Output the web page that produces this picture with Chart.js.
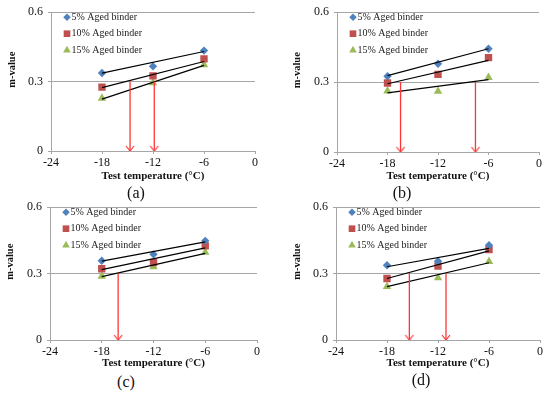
<!DOCTYPE html>
<html>
<head>
<meta charset="utf-8">
<script src="https://cdn.jsdelivr.net/npm/chart.js@4/dist/chart.umd.min.js"></script>
<style>
  body { margin: 0; background: #fff; width: 550px; height: 395px; position: relative; overflow: hidden; }
  canvas { position: absolute; }
  .tag { position: absolute; font: 16px "Liberation Serif", serif; color: #111; transform: translate(-50%, -50%); }
</style>
</head>
<body>
<canvas id="pa" width="275" height="185" style="left:0;top:0"></canvas>
<canvas id="pb" width="275" height="185" style="left:275px;top:0"></canvas>
<canvas id="pc" width="275" height="178" style="left:0;top:195px"></canvas>
<canvas id="pd" width="275" height="178" style="left:275px;top:195px"></canvas>
<div class="tag" style="left:136px;top:193px">(a)</div>
<div class="tag" style="left:402px;top:193px">(b)</div>
<div class="tag" style="left:126px;top:382px">(c)</div>
<div class="tag" style="left:421px;top:380px">(d)</div>
<script>
// values
const xTicks = [-24, -18, -12, -6, 0];
const yTicks = [0, 0.3, 0.6];
const temps = [-18, -12, -6];
const fitTemps = [-18, -6];
const seriesNames = ['5% Aged binder', '10% Aged binder', '15% Aged binder'];

// (a)
const a5 = [0.337, 0.366, 0.434];
const a10 = [0.276, 0.325, 0.398];
const a15 = [0.228, 0.295, 0.373];
const aFit5 = [0.337, 0.430];
const aFit10 = [0.274, 0.387];
const aFit15 = [0.224, 0.370];
const aArrows = [-14.7, -11.85];

// (b)
const b5 = [0.325, 0.379, 0.443];
const b10 = [0.296, 0.333, 0.405];
const b15 = [0.262, 0.261, 0.320];
const bFit5 = [0.328, 0.443];
const bFit10 = [0.293, 0.393];
const bFit15 = [0.254, 0.311];
const bArrows = [-16.45, -7.55];

// (c)
const c5 = [0.358, 0.387, 0.448];
const c10 = [0.322, 0.350, 0.425];
const c15 = [0.288, 0.331, 0.396];
const cFit5 = [0.356, 0.443];
const cFit10 = [0.318, 0.416];
const cFit15 = [0.286, 0.391];
const cArrows = [-16.1];

// (d)
const d5 = [0.338, 0.356, 0.428];
const d10 = [0.278, 0.334, 0.409];
const d15 = [0.241, 0.281, 0.355];
const dFit5 = [0.331, 0.414];
const dFit10 = [0.278, 0.403];
const dFit15 = [0.241, 0.349];
const dArrows = [-15.37, -11.06];

const FONT = '"Liberation Serif", "Times New Roman", serif';
const COLORS = ['#4f81bd', '#c0504d', '#9bbb59'];
const STYLES = ['rectRot', 'rect', 'triangle'];
const RADII = [4.2, 5.2, 4.9];
const GRID = '#a6a6a6';
const RED = '#ff3535';

function arrowHead() {
  const c = document.createElement('canvas');
  c.width = 12; c.height = 12;
  const g = c.getContext('2d');
  g.strokeStyle = RED; g.lineWidth = 1.2;
  g.beginPath(); g.moveTo(2, 1); g.lineTo(6, 6); g.lineTo(10, 1); g.stroke();
  return c;
}
const head = arrowHead();

function marker(ctx, style, x, y, r, color) {
  ctx.fillStyle = color;
  ctx.beginPath();
  if (style === 'rectRot') {
    ctx.moveTo(x, y - r); ctx.lineTo(x + r, y); ctx.lineTo(x, y + r); ctx.lineTo(x - r, y);
  } else if (style === 'rect') {
    const s = r * Math.SQRT1_2;
    ctx.rect(x - s, y - s, 2 * s, 2 * s);
  } else {
    ctx.moveTo(x, y - r);
    ctx.lineTo(x + r * Math.sin(2 * Math.PI / 3), y - r * Math.cos(2 * Math.PI / 3));
    ctx.lineTo(x + r * Math.sin(4 * Math.PI / 3), y - r * Math.cos(4 * Math.PI / 3));
  }
  ctx.closePath();
  ctx.fill();
}

const innerLegend = {
  id: 'innerLegend',
  afterDraw(chart) {
    const { ctx, chartArea } = chart;
    ctx.save();
    ctx.font = '10px ' + FONT;
    ctx.textBaseline = 'middle';
    seriesNames.forEach((name, i) => {
      const x = chartArea.left + 16;
      const y = chartArea.top + 5 + i * 16.5;
      marker(ctx, STYLES[i], x, y, RADII[i] * 0.9, COLORS[i]);
      ctx.fillStyle = '#222';
      ctx.fillText(name, x + 4.5, y);
    });
    ctx.restore();
  }
};

function panel(id, lay, values, fits, arrows) {
  const datasets = [];
  values.forEach((vals, i) => {
    datasets.push({
      label: seriesNames[i],
      data: temps.map((t, k) => ({ x: t, y: vals[k] })),
      pointStyle: STYLES[i],
      pointRadius: RADII[i],
      backgroundColor: COLORS[i],
      borderColor: COLORS[i],
      borderWidth: 0,
      order: 2
    });
  });
  fits.forEach(f => {
    datasets.push({
      data: fitTemps.map((t, k) => ({ x: t, y: f[k] })),
      showLine: true,
      borderColor: '#000',
      borderWidth: 1.2,
      pointRadius: 0,
      order: 1
    });
  });
  arrows.forEach(t => {
    datasets.push({
      data: [{ x: t, y: 0.3 }, { x: t, y: 0 }],
      showLine: true,
      borderColor: RED,
      borderWidth: 1.3,
      pointStyle: head,
      pointRadius: [0, 6],
      order: 0
    });
  });

  const W = lay.w, H = lay.h;
  const padLeft = lay.yTitleX - 6.3;
  new Chart(document.getElementById(id), {
    type: 'scatter',
    data: { datasets },
    options: {
      responsive: false,
      animation: false,
      layout: { padding: { left: padLeft, top: lay.top, right: W - lay.right, bottom: 0 } },
      plugins: { legend: { display: false }, tooltip: { enabled: false } },
      scales: {
        x: {
          min: -24, max: 0,
          afterBuildTicks: s => { s.ticks = xTicks.map(v => ({ value: v })); },
          afterFit: s => { s.height = H - lay.bottom; },
          grid: { drawOnChartArea: false, color: GRID, tickLength: 3 },
          border: { color: GRID },
          ticks: { color: '#111', font: { family: FONT, size: 12 }, padding: 2, callback: v => String(v) },
          title: { display: true, text: 'Test temperature (°C)', color: '#111',
                   font: { family: FONT, size: 11, weight: 'bold' },
                   padding: { top: 0, bottom: H - 6.6 - lay.xTitleY } }
        },
        y: {
          min: 0, max: 0.6,
          afterBuildTicks: s => { s.ticks = yTicks.map(v => ({ value: v })); },
          afterFit: s => { s.width = lay.left - padLeft; },
          grid: { color: GRID, tickLength: 3 },
          border: { color: GRID },
          ticks: { color: '#111', font: { family: FONT, size: 12 }, padding: 5, callback: v => String(v) },
          title: { display: true, text: '         m-value', color: '#111',
                   font: { family: FONT, size: 10.5, weight: 'bold' },
                   padding: { top: 0, bottom: 0 } }
        }
      }
    },
    plugins: [innerLegend]
  });
}

panel('pa', { w: 275, h: 185, left: 51, right: 255, top: 10, bottom: 151, yTitleX: 12, xTitleY: 176 },
      [a5, a10, a15], [aFit5, aFit10, aFit15], aArrows);
panel('pb', { w: 275, h: 185, left: 62, right: 264, top: 11, bottom: 152, yTitleX: 22, xTitleY: 176 },
      [b5, b10, b15], [bFit5, bFit10, bFit15], bArrows);
panel('pc', { w: 275, h: 178, left: 50, right: 257, top: 12, bottom: 145, yTitleX: 10, xTitleY: 168 },
      [c5, c10, c15], [cFit5, cFit10, cFit15], cArrows);
panel('pd', { w: 275, h: 178, left: 61, right: 265, top: 12, bottom: 145, yTitleX: 22, xTitleY: 168 },
      [d5, d10, d15], [dFit5, dFit10, dFit15], dArrows);
</script>
</body>
</html>
